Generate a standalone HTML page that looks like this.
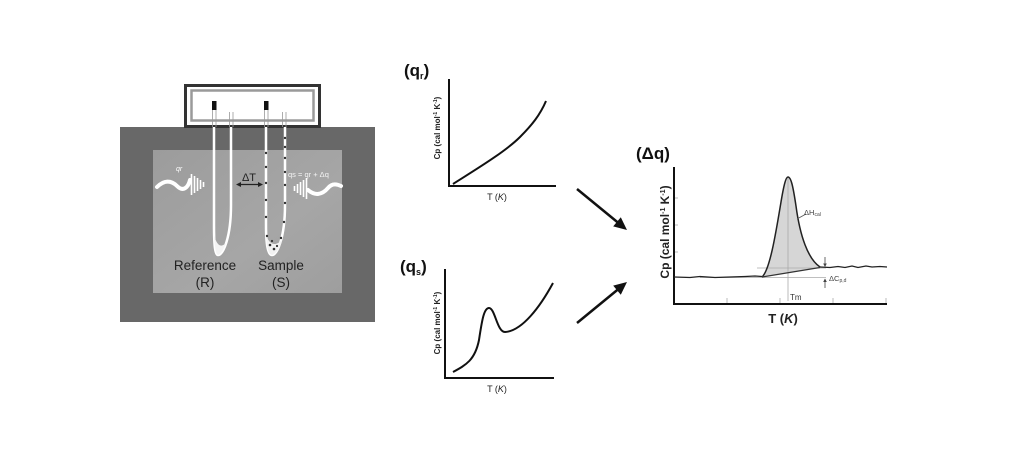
<!DOCTYPE html>
<html><head><meta charset="utf-8"><style>
html,body{margin:0;padding:0;background:#fff;}
svg{display:block;}
text{font-family:"Liberation Sans",Arial,sans-serif;}
</style></head><body>
<svg width="1024" height="474" viewBox="0 0 1024 474" xmlns="http://www.w3.org/2000/svg">
<rect width="1024" height="474" fill="#fff"/>
<defs>
<linearGradient id="ig" x1="0" y1="0" x2="1" y2="1">
<stop offset="0" stop-color="#9c9c9c"/><stop offset="0.6" stop-color="#a6a6a6"/><stop offset="1" stop-color="#9e9e9e"/>
</linearGradient>
</defs>
<!-- apparatus -->
<rect x="120" y="127" width="255" height="195" fill="#686868"/>
<rect x="153" y="150" width="189" height="143" fill="url(#ig)"/>
<rect x="185.5" y="85.5" width="134" height="41" fill="#fff" stroke="#333" stroke-width="3"/>
<rect x="191.5" y="90.5" width="122" height="30" fill="none" stroke="#9a9a9a" stroke-width="2.5"/>
<!-- tube tops in box -->
<g stroke="#999" stroke-width="0.8" fill="none">
<line x1="212.5" y1="108" x2="212.5" y2="127"/><line x1="216" y1="108" x2="216" y2="127"/>
<line x1="229.5" y1="112" x2="229.5" y2="127"/><line x1="233" y1="112" x2="233" y2="127"/>
<line x1="264.5" y1="108" x2="264.5" y2="127"/><line x1="268" y1="108" x2="268" y2="127"/>
<line x1="282.5" y1="112" x2="282.5" y2="127"/><line x1="286" y1="112" x2="286" y2="127"/>
</g>
<rect x="212" y="101" width="4.5" height="9" fill="#111"/>
<rect x="264" y="101" width="4.5" height="9" fill="#111"/>
<!-- reference tube -->
<path d="M214,127 L214,225 C214,245 215,255 218,255 C223,255 231,238 231,205 L231,127" fill="none" stroke="#fff" stroke-width="2.5"/>
<path d="M214,235 C215,250 216,254 218,255 C221,254 224,249 226,243 C221,248 217,246 214,235 Z" fill="#f4f4f4"/>
<!-- sample tube -->
<path d="M266,127 L266,225 C266,245 268,255 272,255 C277,255 285,238 285,205 L285,127" fill="none" stroke="#fff" stroke-width="2.5"/>
<path d="M266,235 C267,250 269,254 272,255 C276,254 280,248 282,240 C276,246 270,246 266,235 Z" fill="#f2f2f2"/>
<g fill="#333">
<circle cx="266" cy="153" r="1.2"/><circle cx="266" cy="167" r="1.2"/><circle cx="266" cy="183" r="1.2"/><circle cx="266" cy="200" r="1.2"/><circle cx="266" cy="217" r="1.2"/><circle cx="267" cy="236" r="1.2"/>
<circle cx="285" cy="138" r="1.2"/><circle cx="285" cy="147" r="1.2"/><circle cx="285" cy="158" r="1.2"/><circle cx="285" cy="172" r="1.2"/><circle cx="285" cy="185" r="1.2"/><circle cx="285" cy="203" r="1.2"/><circle cx="284" cy="222" r="1.2"/><circle cx="281" cy="238" r="1.2"/>
<circle cx="270" cy="245" r="1.3"/><circle cx="274" cy="249" r="1.3"/><circle cx="272" cy="241" r="1.1"/><circle cx="277" cy="246" r="1.1"/>
</g>
<!-- delta T -->
<text x="249" y="181" font-size="11" fill="#222" text-anchor="middle">ΔT</text>
<line x1="239" y1="184.5" x2="260" y2="184.5" stroke="#222" stroke-width="1.3"/>
<path d="M236,184.5 L241,182 L241,187 Z M263,184.5 L258,182 L258,187 Z" fill="#222"/>
<!-- left heat wave -->
<path d="M157,187 C164,180 171,180 177,186 C183,192 188,188 190,180" fill="none" stroke="#fff" stroke-width="4" stroke-linecap="round"/>
<g stroke="#fff" stroke-width="1.6">
<line x1="191.5" y1="174" x2="191.5" y2="195"/>
<line x1="194.5" y1="176" x2="194.5" y2="193"/>
<line x1="197.5" y1="178" x2="197.5" y2="191"/>
<line x1="200.5" y1="180" x2="200.5" y2="189"/>
<line x1="203.5" y1="182" x2="203.5" y2="187"/>
</g>
<text x="176" y="171" font-size="7" fill="#fff" font-style="italic">qr</text>
<!-- right heat wave -->
<text x="288" y="177" font-size="7.5" fill="#f4f4f4">qs = qr + Δq</text>
<g stroke="#fff" stroke-width="1.6">
<line x1="294.5" y1="186" x2="294.5" y2="191"/>
<line x1="297.5" y1="184" x2="297.5" y2="193"/>
<line x1="300.5" y1="182" x2="300.5" y2="195"/>
<line x1="303.5" y1="180" x2="303.5" y2="197"/>
<line x1="306.5" y1="178" x2="306.5" y2="199"/>
</g>
<path d="M308,190 C315,196 322,195 328,188 C332,183 337,184 341,186" fill="none" stroke="#fff" stroke-width="4" stroke-linecap="round"/>
<!-- labels -->
<text x="205" y="270" font-size="13.5" fill="#222" text-anchor="middle">Reference</text>
<text x="205" y="287" font-size="13.5" fill="#222" text-anchor="middle">(R)</text>
<text x="281" y="270" font-size="13.5" fill="#222" text-anchor="middle">Sample</text>
<text x="281" y="287" font-size="13.5" fill="#222" text-anchor="middle">(S)</text>

<!-- q_r chart -->
<text x="404" y="76" font-size="17" font-weight="bold" fill="#111">(q<tspan font-size="9" dy="3">r</tspan><tspan dy="-3">)</tspan></text>
<path d="M449,79 L449,186 L556,186" fill="none" stroke="#111" stroke-width="2"/>
<path d="M453,184 C475,170 505,152 520,137 C532,125 540,115 546,101" fill="none" stroke="#111" stroke-width="2"/>
<text transform="translate(440,128) rotate(-90)" font-size="8" font-weight="bold" fill="#222" text-anchor="middle">Cp (cal mol<tspan font-size="5" dy="-3">-1</tspan><tspan dy="3"> K</tspan><tspan font-size="5" dy="-3">-1</tspan><tspan dy="3">)</tspan></text>
<text x="497" y="200" font-size="9" fill="#222" text-anchor="middle">T (<tspan font-style="italic">K</tspan>)</text>

<!-- q_s chart -->
<text x="400" y="272" font-size="17" font-weight="bold" fill="#111">(q<tspan font-size="9" dy="3">s</tspan><tspan dy="-3">)</tspan></text>
<path d="M445,269 L445,378 L554,378" fill="none" stroke="#111" stroke-width="2"/>
<path d="M453,372 C466,365 475,360 479,340 C482,320 484,308 489,308 C495,308 497,332 505,332 C522,331 540,307 553,283" fill="none" stroke="#111" stroke-width="2"/>
<text transform="translate(440,323) rotate(-90)" font-size="8" font-weight="bold" fill="#222" text-anchor="middle">Cp (cal mol<tspan font-size="5" dy="-3">-1</tspan><tspan dy="3"> K</tspan><tspan font-size="5" dy="-3">-1</tspan><tspan dy="3">)</tspan></text>
<text x="497" y="392" font-size="9" fill="#222" text-anchor="middle">T (<tspan font-style="italic">K</tspan>)</text>

<!-- arrows -->
<line x1="577" y1="189" x2="618" y2="222.6" stroke="#111" stroke-width="2.5"/>
<path d="M627,230 L613.2,226.4 L620.8,217.2 Z" fill="#111"/>
<line x1="577" y1="323" x2="618" y2="289.4" stroke="#111" stroke-width="2.5"/>
<path d="M627,282 L620.8,294.8 L613.2,285.6 Z" fill="#111"/>

<!-- delta q chart -->
<text x="636" y="159" font-size="17" font-weight="bold" fill="#111">(Δq)</text>
<path d="M762,277 C770,270 776,232 781,202 C784,184 786,177 788,177 C791,177 793,186 796,206 C800,236 808,259 820,267 L762,277 Z" fill="#d6d6d6"/>
<g stroke="#aaa" stroke-width="0.8">
<line x1="757" y1="268" x2="826" y2="268"/>
<line x1="700" y1="277.5" x2="826" y2="277.5"/>
<line x1="788" y1="178" x2="788" y2="301"/>
<line x1="674" y1="198" x2="678" y2="198"/>
<line x1="674" y1="225" x2="678" y2="225"/>
<line x1="674" y1="252" x2="678" y2="252"/>
<line x1="727" y1="304" x2="727" y2="298"/>
<line x1="780" y1="304" x2="780" y2="298"/>
<line x1="833" y1="304" x2="833" y2="298"/>
<line x1="886" y1="304" x2="886" y2="298"/>
</g>
<path d="M674,167 L674,304 L887,304" fill="none" stroke="#111" stroke-width="2"/>
<path d="M674,277 L690,277.5 L700,276.5 L715,277.5 L730,277 L745,276.5 L755,276 L762,276.5" fill="none" stroke="#222" stroke-width="1.3"/>
<path d="M762,277 C770,270 776,232 781,202 C784,184 786,177 788,177 C791,177 793,186 796,206 C800,236 808,259 820,267" fill="none" stroke="#222" stroke-width="1.5"/>
<line x1="762" y1="277" x2="820" y2="267.5" stroke="#333" stroke-width="1.2"/>
<path d="M820,267 L830,267.5 L838,266.5 L845,267.5 L852,266 L858,267.5 L866,266 L872,267 L880,266.5 L887,267" fill="none" stroke="#222" stroke-width="1.3"/>
<path d="M797,219 L806,214" stroke="#555" stroke-width="0.8"/>
<text x="804" y="215" font-size="7.5" fill="#444">ΔH<tspan font-size="5" dy="1">cal</tspan></text>
<g stroke="#444" stroke-width="0.8">
<line x1="825" y1="257" x2="825" y2="266"/>
<line x1="825" y1="279" x2="825" y2="288"/>
</g>
<path d="M825,267 L823.2,263.5 L826.8,263.5 Z M825,278.5 L823.2,282 L826.8,282 Z" fill="#444"/>
<text x="829" y="281" font-size="7.5" fill="#444">ΔC<tspan font-size="5" dy="1">p,d</tspan></text>
<text x="790" y="300" font-size="8" fill="#333">Tm</text>
<text transform="translate(669,232) rotate(-90)" font-size="12" font-weight="bold" fill="#222" text-anchor="middle">Cp (cal mol<tspan font-size="7" dy="-4">-1</tspan><tspan dy="4"> K</tspan><tspan font-size="7" dy="-4">-1</tspan><tspan dy="4">)</tspan></text>
<text x="783" y="323" font-size="13" font-weight="bold" fill="#222" text-anchor="middle">T (<tspan font-style="italic">K</tspan>)</text>
</svg>
</body></html>
